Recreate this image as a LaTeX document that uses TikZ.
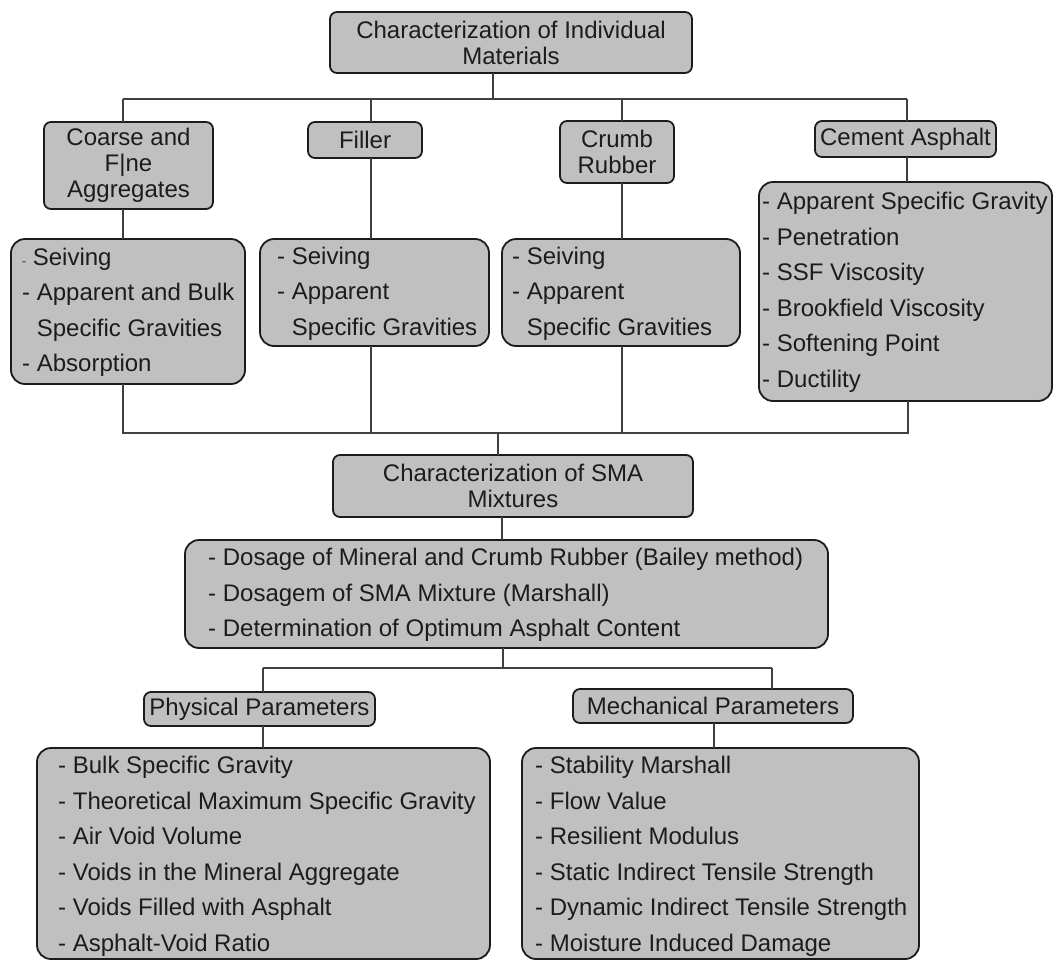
\documentclass[tikz,border=0pt]{standalone}
\usepackage{fontspec}
\setmainfont{Liberation Sans}
\definecolor{boxgray}{HTML}{C0C0C0}
\definecolor{ink}{HTML}{1C1C1C}
\definecolor{wire}{HTML}{404040}
\tikzset{
  basebox/.style={draw=ink, line width=1.8pt, fill=boxgray, text=ink, anchor=north west, inner sep=0pt, outer sep=0pt},
  titlebox/.style={basebox, rounded corners=7pt, align=center, font=\fontsize{24}{26}\selectfont},
  listbox/.style={basebox, rounded corners=14pt},
  listtext/.style={anchor=west, inner sep=0pt, text=ink, align=left, font=\fontsize{24}{35.5}\selectfont},
  wire/.style={draw=wire, line width=1.2pt}
}
\begin{document}
\begin{tikzpicture}[x=1pt,y=-1pt]
\useasboundingbox (0,0) rectangle (1056,961);
% level 1
\node[titlebox, minimum width=362pt, minimum height=61pt] (top) at (330,12) {Characterization of Individual\\Materials};
% level 2 titles
\node[titlebox, minimum width=169pt, minimum height=87pt] (coarse) at (44,122) {Coarse and\\F|ne\\Aggregates};
\node[titlebox, minimum width=114pt, minimum height=36pt] (filler) at (308,122) {Filler};
\node[titlebox, minimum width=114pt, minimum height=62pt] (crumb) at (560,121) {Crumb\\Rubber};
\node[titlebox, minimum width=181pt, minimum height=36pt] (cement) at (815,121) {Cement Asphalt};
% level 2 lists
\node[listbox, minimum width=234pt, minimum height=145pt] (clist) at (11,239) {};
\node[listtext] (clistt) at ([xshift=11pt,yshift=-1pt]clist.west)
  {{\fontsize{12}{12}\selectfont -} Seiving\\- Apparent and Bulk\\\phantom{-} Specific Gravities\\- Absorption};
\node[listbox, minimum width=229pt, minimum height=107pt] (flist) at (260,239) {};
\node[listtext] (flistt) at ([xshift=17pt,yshift=-1pt]flist.west)
  {- Seiving\\- Apparent\\\phantom{-} Specific Gravities};
\node[listbox, minimum width=238pt, minimum height=107pt] (rlist) at (502,239) {};
\node[listtext] (rlistt) at ([xshift=10pt,yshift=-1pt]rlist.west)
  {- Seiving\\- Apparent\\\phantom{-} Specific Gravities};
\node[listbox, minimum width=293pt, minimum height=219pt] (alist) at (759,182) {};
\node[listtext] (alistt) at ([xshift=3pt,yshift=-1pt]alist.west)
  {- Apparent Specific Gravity\\- Penetration\\- SSF Viscosity\\- Brookfield Viscosity\\- Softening Point\\- Ductility};
% level 3
\node[titlebox, minimum width=360pt, minimum height=62pt] (sma) at (333,455) {Characterization of SMA\\Mixtures};
\node[listbox, minimum width=643pt, minimum height=108pt] (dlist) at (185,540) {};
\node[listtext] (dlistt) at ([xshift=23pt,yshift=-1pt]dlist.west)
  {- Dosage of Mineral and Crumb Rubber (Bailey method)\\- Dosagem of SMA Mixture (Marshall)\\- Determination of Optimum Asphalt Content};
% level 4
\node[titlebox, minimum width=231pt, minimum height=34pt] (phys) at (144,692) {Physical Parameters};
\node[titlebox, minimum width=280pt, minimum height=34pt] (mech) at (573,689) {Mechanical Parameters};
\node[listbox, minimum width=453pt, minimum height=211pt] (plist) at (37,748) {};
\node[listtext] (plistt) at ([xshift=21pt,yshift=-3pt]plist.west)
  {- Bulk Specific Gravity\\- Theoretical Maximum Specific Gravity\\- Air Void Volume\\- Voids in the Mineral Aggregate\\- Voids Filled with Asphalt\\- Asphalt-Void Ratio};
\node[listbox, minimum width=397pt, minimum height=211pt] (mlist) at (522,748) {};
\node[listtext] (mlistt) at ([xshift=13pt,yshift=-3pt]mlist.west)
  {- Stability Marshall\\- Flow Value\\- Resilient Modulus\\- Static Indirect Tensile Strength\\- Dynamic Indirect Tensile Strength\\- Moisture Induced Damage};
% junction coordinates
\coordinate (ja) at (493,99);
\coordinate (j1) at (123,99);
\coordinate (j2) at (371,99);
\coordinate (j3) at (622,99);
\coordinate (j4) at (907,99);
\coordinate (k1) at (123,433);
\coordinate (k2) at (371,433);
\coordinate (k3) at (622,433);
\coordinate (k4) at (908,433);
\coordinate (kb) at (498,433);
\coordinate (sx) at (502,0);
\coordinate (m0) at (503,668);
\coordinate (m1) at (263,668);
\coordinate (m2) at (772,668);
\coordinate (mx) at (714,0);
% connectors
\draw[wire] (top.south -| ja) -- (ja);
\draw[wire] (j1) -- (j4);
\draw[wire] (j1) -- (coarse.north -| j1);
\draw[wire] (j2) -- (filler.north -| j2);
\draw[wire] (j3) -- (crumb.north -| j3);
\draw[wire] (j4) -- (cement.north -| j4);
\draw[wire] (coarse.south -| j1) -- (clist.north -| j1);
\draw[wire] (filler.south -| j2) -- (flist.north -| j2);
\draw[wire] (crumb.south -| j3) -- (rlist.north -| j3);
\draw[wire] (cement.south -| j4) -- (alist.north -| j4);
\draw[wire] (clist.south -| k1) -- (k1) -- (k4) -- (alist.south -| k4);
\draw[wire] (flist.south -| k2) -- (k2);
\draw[wire] (rlist.south -| k3) -- (k3);
\draw[wire] (kb) -- (sma.north -| kb);
\draw[wire] (sma.south -| sx) -- (dlist.north -| sx);
\draw[wire] (dlist.south -| m0) -- (m0);
\draw[wire] (m1) -- (m2);
\draw[wire] (m1) -- (phys.north -| m1);
\draw[wire] (m2) -- (mech.north -| m2);
\draw[wire] (phys.south -| m1) -- (plist.north -| m1);
\draw[wire] (mech.south -| mx) -- (mlist.north -| mx);
\end{tikzpicture}
\end{document}
